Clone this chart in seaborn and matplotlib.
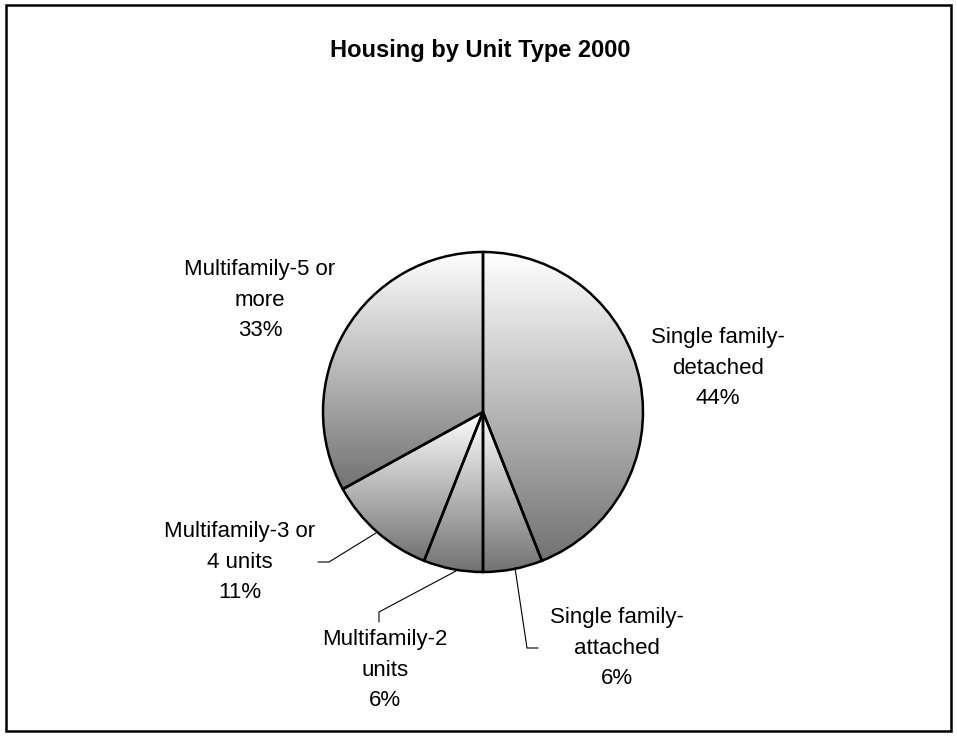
import numpy as np
import matplotlib
matplotlib.use("Agg")
import matplotlib.pyplot as plt
import seaborn as sns
from matplotlib.colors import LinearSegmentedColormap
from matplotlib.patches import Rectangle

# data
categories = ["Single family-\ndetached", "Single family-\nattached",
              "Multifamily-2\nunits", "Multifamily-3 or\n4 units",
              "Multifamily-5 or\nmore"]
shares = [44, 6, 6, 11, 33]
title = "Housing by Unit Type 2000"

# layout (pixel positions, y measured from top)
W, H = 957, 736
center_px = (483, 412)
radius_px = 160
label_px = [(718, 368), (617, 648), (385, 670), (240, 562), (260, 300)]
leader_px = [None,
             [(515, 568), (527, 648), (538, 648)],
             [(456, 571), (379, 612), (379, 622)],
             [(376, 533), (329, 562), (318, 562)],
             None]

sns.set_style("white")
plt.rcParams['font.family'] = ['Liberation Sans', 'DejaVu Sans']

fig = plt.figure(figsize=(W / 100, H / 100), dpi=100)
ax = fig.add_axes([0, 0, 1, 1])

wedges, _ = ax.pie(shares, startangle=90, counterclock=False,
                   center=(center_px[0], H - center_px[1]), radius=radius_px,
                   wedgeprops=dict(facecolor='none', edgecolor='black', linewidth=1.8),
                   frame=True)
ax.set_xlim(0, W)
ax.set_ylim(0, H)
ax.set_aspect('equal')
ax.axis('off')

# vertical white->grey gradient inside every slice
cmap = LinearSegmentedColormap.from_list('grey_grad', ['#ffffff', '#727272'])
grad = np.linspace(0, 1, 256).reshape(-1, 1)
for w in wedges:
    ext = w.get_path().get_extents()
    im = ax.imshow(grad, cmap=cmap, aspect='auto', origin='upper',
                   extent=(ext.x0, ext.x1, ext.y0, ext.y1), zorder=1,
                   interpolation='bilinear')
    im.set_clip_path(w)
    w.set_zorder(2)

for lab, share, (lx, ly) in zip(categories, shares, label_px):
    ax.text(lx, H - ly, f"{lab}\n{share}%", ha='center', va='center',
            fontsize=16, linespacing=1.57, color='black')

for seg in leader_px:
    if seg is None:
        continue
    xs = [p[0] for p in seg]
    ys = [H - p[1] for p in seg]
    ax.plot(xs, ys, color='black', linewidth=0.8, zorder=3)

ax.text(W / 2 + 2, H - 50, title, ha='center', va='center',
        fontsize=17, fontweight='bold', color='black')

fig.patches.append(Rectangle((6 / W, 5 / H), (951 - 6) / W, (731 - 5) / H,
                             transform=fig.transFigure, fill=False,
                             edgecolor='black', linewidth=1.8))

fig.savefig("out.png", dpi=100)
